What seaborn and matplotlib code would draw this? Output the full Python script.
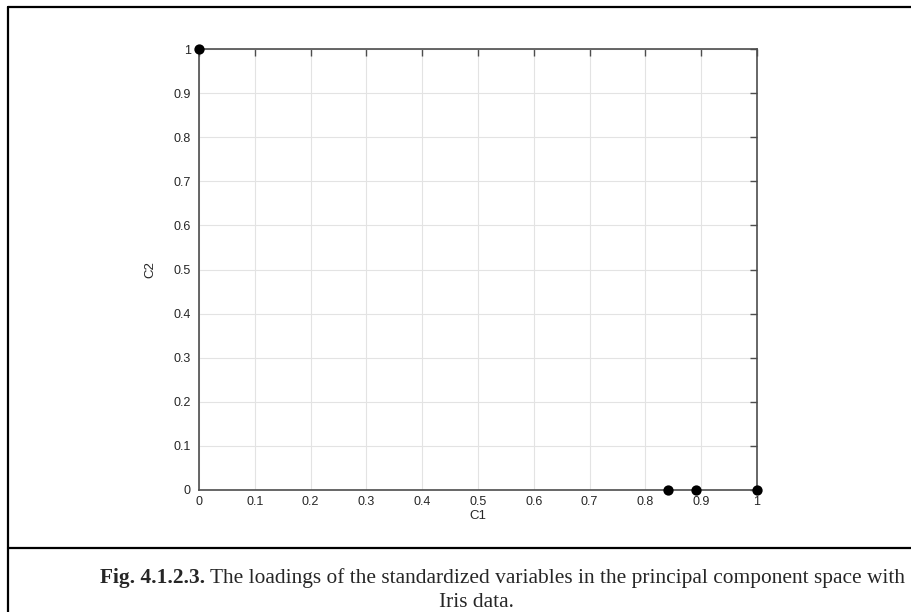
import matplotlib
matplotlib.use("Agg")
import matplotlib.pyplot as plt
from matplotlib.lines import Line2D
from matplotlib.text import Annotation
import seaborn as sns
import pandas as pd

# Loadings of the standardized variables on the first two components
variables = ["v1", "v2", "v3", "v4"]
c1_loadings = [0.0, 0.84, 0.89, 1.0]
c2_loadings = [1.0, 0.0, 0.0, 0.0]
tick_values = [0, 0.1, 0.2, 0.3, 0.4, 0.5, 0.6, 0.7, 0.8, 0.9, 1]
tick_labels = ["0", "0.1", "0.2", "0.3", "0.4", "0.5", "0.6", "0.7", "0.8", "0.9", "1"]

sns.set_style("white")
plt.rcParams["font.family"] = ["Liberation Sans", "DejaVu Sans"]

df = pd.DataFrame({"variable": variables, "C1": c1_loadings, "C2": c2_loadings})

W, H = 911, 612
fig = plt.figure(figsize=(W / 100, H / 100), dpi=100)
ax = fig.add_axes([199 / W, 1 - 490 / H, (757 - 199) / W, (490 - 49) / H])

axis_col = "#4d4d4d"
ax.grid(True, color="#e3e3e3", linewidth=0.8)
ax.set_axisbelow(True)

sns.scatterplot(data=df, x="C1", y="C2", ax=ax, color="black", s=55,
                edgecolor="black", linewidth=0, clip_on=False, zorder=5, legend=False)

ax.set_xlim(0, 1)
ax.set_ylim(0, 1)
ax.set_xticks(tick_values)
ax.set_xticklabels(tick_labels)
ax.set_yticks(tick_values)
ax.set_yticklabels(tick_labels)
ax.tick_params(direction="in", length=5, width=1.0, color=axis_col,
               labelsize=9, labelcolor="#262626", top=True, right=True)
ax.tick_params(axis="y", pad=6)
ax.tick_params(axis="x", pad=4)
for sp in ax.spines.values():
    sp.set_visible(True)
    sp.set_color(axis_col)
    sp.set_linewidth(1.2)

ax.set_xlabel("C1", fontsize=9.5, color="#262626", labelpad=2)
ax.set_ylabel("C2", fontsize=9.5, color="#262626", labelpad=12)

# frame around the figure and the caption
def px_line(x0, y0, x1, y1):
    fig.add_artist(Line2D([x0 / W, x1 / W], [1 - y0 / H, 1 - y1 / H],
                          transform=fig.transFigure, color="black", linewidth=1.6))

px_line(8, 7, W, 7)
px_line(8, 7, 8, H)
px_line(8, 548, W, 548)

cap_font = ["Liberation Serif", "DejaVu Serif"]
cap_size = 15.4
t1 = fig.text(100 / W, 1 - 588 / H, "Fig. 4.1.2.3.", family=cap_font,
              fontweight="bold", fontsize=cap_size, ha="left", va="bottom")
fig.add_artist(Annotation(" The loadings of the standardized variables in the principal component space with",
                          xy=(1, 0), xycoords=t1, family=cap_font, fontsize=cap_size,
                          ha="left", va="bottom"))
fig.text(476 / W, 1 - 612 / H, "Iris data.", family=cap_font, fontsize=cap_size,
         ha="center", va="bottom")

fig.savefig("out.png", dpi=100)
